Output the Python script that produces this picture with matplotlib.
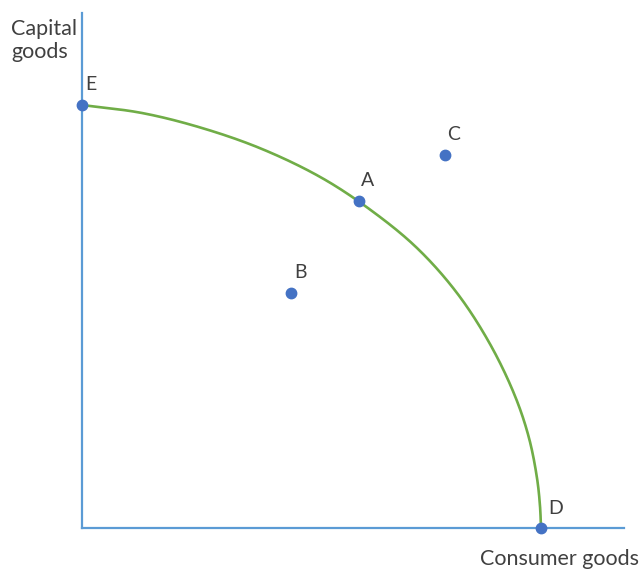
import numpy as np
import matplotlib
matplotlib.use("Agg")
import matplotlib.pyplot as plt

# production possibility frontier (pixel units from origin)
curve_x = [0, 60, 120, 180, 240, 290, 335, 375, 408, 433, 447, 455, 458, 459]
curve_y = [423, 415, 400, 379, 350, 317, 280, 235, 184, 132, 90, 50, 22, 0]

point_names = ["E", "A", "B", "C", "D"]
point_x = [0, 277, 209, 363, 459]
point_y = [423, 327, 235, 373, 0]

x_label = "Consumer goods"
y_label = "Capital\ngoods"

axis_blue = "#5B9BD5"
curve_green = "#70AD47"
dot_blue = "#4472C4"
text_grey = "#404040"


def smooth(xs, ys, n=40):
    # centripetal catmull-rom through the read points, only for a smooth stroke
    p = np.column_stack([xs, ys]).astype(float)
    p = np.vstack([2 * p[0] - p[1], p, 2 * p[-1] - p[-2]])
    out = []
    for i in range(1, len(p) - 2):
        p0, p1, p2, p3 = p[i - 1], p[i], p[i + 1], p[i + 2]
        t0 = 0.0
        t1 = t0 + np.linalg.norm(p1 - p0) ** 0.5
        t2 = t1 + np.linalg.norm(p2 - p1) ** 0.5
        t3 = t2 + np.linalg.norm(p3 - p2) ** 0.5
        t = np.linspace(t1, t2, n, endpoint=False)[:, None]
        a1 = (t1 - t) / (t1 - t0) * p0 + (t - t0) / (t1 - t0) * p1
        a2 = (t2 - t) / (t2 - t1) * p1 + (t - t1) / (t2 - t1) * p2
        a3 = (t3 - t) / (t3 - t2) * p2 + (t - t2) / (t3 - t2) * p3
        b1 = (t2 - t) / (t2 - t0) * a1 + (t - t0) / (t2 - t0) * a2
        b2 = (t3 - t) / (t3 - t1) * a2 + (t - t1) / (t3 - t1) * a3
        out.append((t2 - t) / (t2 - t1) * b1 + (t - t1) / (t2 - t1) * b2)
    out.append(p[-2][None, :])
    out = np.vstack(out)
    return out[:, 0], out[:, 1]


plt.rcParams["font.family"] = ["Lato", "DejaVu Sans"]

W, H = 641, 572
fig = plt.figure(figsize=(W / 100, H / 100), dpi=100)
ax = fig.add_axes([82 / W, 44 / H, 542 / W, 515 / H])
ax.set_xlim(0, 542)
ax.set_ylim(0, 515)

for s in ["top", "right"]:
    ax.spines[s].set_visible(False)
for s in ["left", "bottom"]:
    ax.spines[s].set_color(axis_blue)
    ax.spines[s].set_linewidth(1.6)
ax.set_xticks([])
ax.set_yticks([])
ax.patch.set_alpha(0)

sx, sy = smooth(curve_x, curve_y)
ax.plot(sx, sy, color=curve_green, lw=1.9, clip_on=False, zorder=3,
        solid_capstyle="round")

ax.scatter(point_x, point_y, s=56, color=dot_blue, zorder=4, clip_on=False)

for name, px, py in zip(point_names, point_x, point_y):
    dx = 15 if name == "D" else 9
    ax.annotate(name, (px, py), xytext=(dx, 20), textcoords="offset pixels",
                ha="center", va="center", fontsize=14, color=text_grey)

fig.text(11 / W, 1 - 19 / H, y_label, ha="left", va="top", fontsize=15.5,
         color=text_grey, linespacing=1.2)
fig.text(1 - 2 / W, 3 / H, x_label, ha="right", va="bottom", fontsize=15.5,
         color=text_grey)

fig.savefig("out.png", dpi=100)
